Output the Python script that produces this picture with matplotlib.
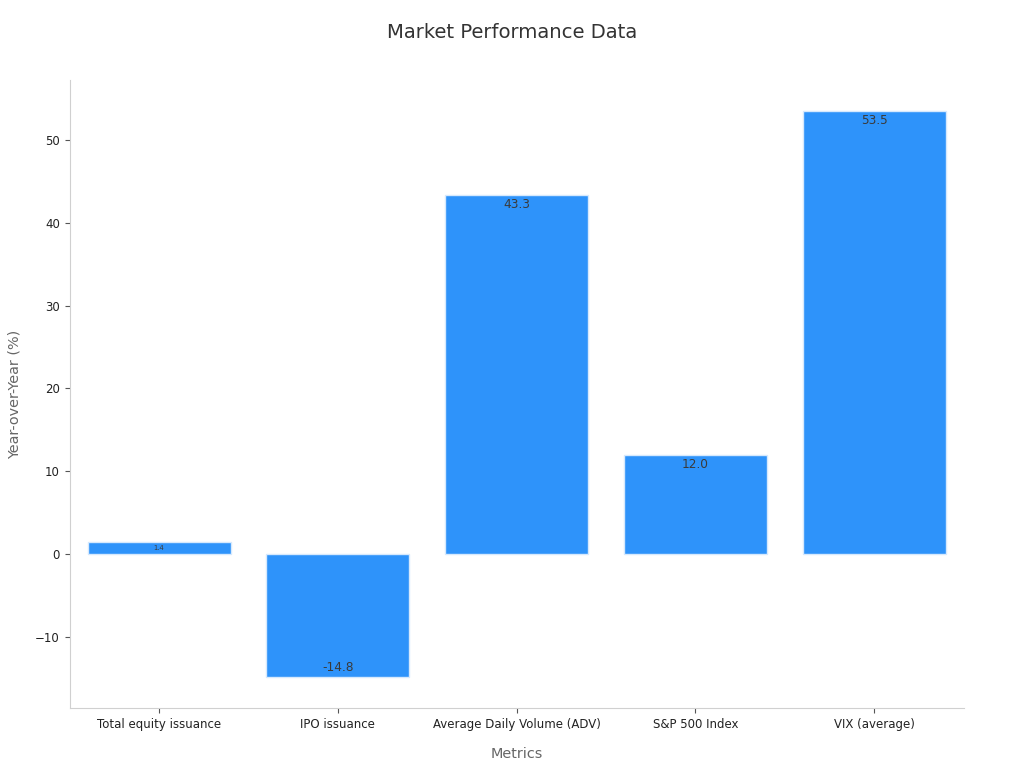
import matplotlib
matplotlib.use('Agg')
from matplotlib import pyplot as plt

# Data
metrics = ['Total equity issuance', 'IPO issuance', 'Average Daily Volume (ADV)',
           'S&P 500 Index', 'VIX (average)']
yoy_change = [1.4, -14.8, 43.3, 12.0, 53.5]

fig = plt.figure(figsize=(10.24, 7.68), dpi=100)
ax = fig.add_axes([0.068, 0.078, 0.873, 0.818])

x = list(range(len(metrics)))
bars = ax.bar(x, yoy_change, width=0.8, color='#2E93FA', edgecolor='#D6E9FD', linewidth=1)

ax.set_xlim(-0.5, len(metrics) - 0.5)
ax.set_ylim(-18.6, 57.25)

# Value labels inside the bar ends; shrink them when the bar is too short
px_per_unit = ax.bbox.height / (57.25 + 18.6)
for bar, val in zip(bars, yoy_change):
    cx = bar.get_x() + bar.get_width() / 2
    h_px = abs(val) * px_per_unit
    if h_px < 20:
        ax.text(cx, val / 2, f'{val:.1f}', ha='center', va='center',
                fontsize=h_px * 0.42, color='#3a3a3a')
    elif val >= 0:
        ax.text(cx, val - 0.35, f'{val:.1f}', ha='center', va='top',
                fontsize=8.7, color='#3a3a3a')
    else:
        ax.text(cx, val + 0.35, f'{val:.1f}', ha='center', va='bottom',
                fontsize=8.7, color='#3a3a3a')

ax.set_xticks(x)
ax.set_xticklabels(metrics, fontsize=8.5, color='#222222')
ax.tick_params(axis='y', labelsize=8.5, labelcolor='#222222', colors='#555555')
ax.tick_params(axis='x', colors='#555555', labelcolor='#222222')

for side in ['top', 'right']:
    ax.spines[side].set_visible(False)
for side in ['left', 'bottom']:
    ax.spines[side].set_color('#d0d0d0')

ax.set_xlabel('Metrics', fontsize=10.4, color='#666666', labelpad=12)
ax.set_ylabel('Year-over-Year (%)', fontsize=10.4, color='#666666', labelpad=10)
fig.suptitle('Market Performance Data', fontsize=14.1, color='#333333', y=0.97)

plt.savefig('out.png', dpi=100)
